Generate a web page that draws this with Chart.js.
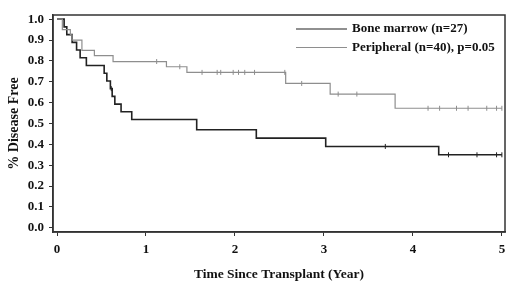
<!DOCTYPE html>
<html>
<head>
<meta charset="utf-8">
<script src="https://cdn.jsdelivr.net/npm/chart.js@4"></script>
<style>
  html, body { margin: 0; padding: 0; background: #fff; }
  #wrap { width: 520px; height: 284px; }
</style>
</head>
<body>
<div id="wrap"><canvas id="myChart" width="520" height="284"></canvas></div>
<script>
// Kaplan-Meier steps: time (years) at which the curve drops, and the new value
const bmTimes = [0.08, 0.11, 0.17, 0.22, 0.26, 0.33, 0.53, 0.56, 0.60, 0.62, 0.65, 0.72, 0.84, 1.57, 2.24, 3.02, 4.29];
const bmSurv = [0.963, 0.926, 0.889, 0.852, 0.815, 0.778, 0.741, 0.704, 0.667, 0.63, 0.593, 0.556, 0.519, 0.47, 0.43, 0.39, 0.35];
const bmCensor = [0.61, 3.69, 4.4, 4.72, 4.94, 5.0];

const pbTimes = [0.06, 0.15, 0.17, 0.28, 0.42, 0.63, 1.23, 1.46, 2.57, 3.07, 3.8];
const pbSurv = [0.95, 0.925, 0.9, 0.85, 0.825, 0.797, 0.772, 0.745, 0.692, 0.641, 0.573];
const pbCensor = [1.12, 1.38, 1.63, 1.8, 1.84, 1.98, 2.04, 2.11, 2.22, 2.56, 2.75, 3.16, 3.37, 4.17, 4.3, 4.49, 4.62, 4.83, 4.94, 5.0];

const xTicks = [0, 1, 2, 3, 4, 5];
const yTicks = [0, 0.1, 0.2, 0.3, 0.4, 0.5, 0.6, 0.7, 0.8, 0.9, 1.0];

const legendLabels = ["Bone marrow (n=27)", "Peripheral (n=40), p=0.05"];
const xTitle = "Time Since Transplant (Year)";
const yTitle = "% Disease Free";

const darkColor = "#222";
const lightColor = "#8e8e8e";
const font = "'Liberation Serif', 'DejaVu Serif', serif";

function stepPoints(times, surv, end) {
  const pts = [{ x: 0, y: 1 }];
  times.forEach((t, i) => pts.push({ x: t, y: surv[i] }));
  pts.push({ x: end, y: surv[surv.length - 1] });
  return pts;
}

function survAt(times, surv, t) {
  let s = 1;
  times.forEach((ti, i) => { if (ti <= t) s = surv[i]; });
  return s;
}

function censorPoints(times, surv, cens) {
  return cens.map((t) => ({ x: t, y: survAt(times, surv, t) }));
}

// "before": horizontal run at the old value, then drop at the new time
const lineSet = (label, data, color, width) => ({
  label, data,
  borderColor: color, borderWidth: width,
  stepped: "before", pointRadius: 0, fill: false,
});
const censorSet = (label, data, color) => ({
  label, data, showLine: false,
  pointStyle: "line", rotation: 90, pointRadius: 2.5,
  borderColor: color, borderWidth: 1, backgroundColor: color,
});

// frame around the plot area + legend drawn inside it
const framePlugin = {
  id: "frame",
  afterDraw(chart) {
    const { ctx, chartArea: a } = chart;
    ctx.save();
    ctx.strokeStyle = "#333";
    ctx.lineWidth = 1.5;
    ctx.strokeRect(a.left, a.top, a.right - a.left, a.bottom - a.top);

    const colors = [darkColor, lightColor];
    const x0 = a.right - 209, x1 = a.right - 158;
    ctx.font = "bold 13px " + font;
    ctx.textBaseline = "middle";
    ctx.fillStyle = "#111";
    legendLabels.forEach((txt, i) => {
      const y = a.top + 14 + i * 18.5;
      ctx.strokeStyle = colors[i];
      ctx.lineWidth = 1.2;
      ctx.beginPath();
      ctx.moveTo(x0, y);
      ctx.lineTo(x1, y);
      ctx.stroke();
      ctx.fillText(txt, x1 + 5, y);
    });
    ctx.restore();
  },
};

new Chart(document.getElementById("myChart").getContext("2d"), {
  type: "line",
  data: {
    datasets: [
      lineSet("Peripheral", stepPoints(pbTimes, pbSurv, 5.0), lightColor, 1.2),
      lineSet("Bone marrow", stepPoints(bmTimes, bmSurv, 5.0), darkColor, 1.6),
      censorSet("pb censored", censorPoints(pbTimes, pbSurv, pbCensor), lightColor),
      censorSet("bm censored", censorPoints(bmTimes, bmSurv, bmCensor), darkColor),
    ],
  },
  options: {
    responsive: false,
    animation: false,
    devicePixelRatio: 1,
    layout: { padding: { top: 15, right: 15, left: 4, bottom: 1 } },
    scales: {
      x: {
        type: "linear",
        min: -0.045,
        max: 5.035,
        afterBuildTicks: (s) => { s.ticks = xTicks.map((v) => ({ value: v })); },
        afterFit: (s) => { s.height = 51; },
        grid: { drawOnChartArea: false, drawTicks: true, tickLength: 4, color: "#333" },
        border: { display: true, color: "#333", width: 1.5 },
        ticks: { color: "#111", font: { family: font, size: 13, weight: "bold" }, padding: 6, maxRotation: 0 },
        title: { display: true, text: xTitle, color: "#111", font: { family: font, size: 13.5, weight: "bold" }, padding: { top: 9, bottom: 0 } },
      },
      y: {
        type: "linear",
        min: -0.02,
        max: 1.02,
        afterBuildTicks: (s) => { s.ticks = yTicks.map((v) => ({ value: v })); },
        afterFit: (s) => { s.width = 49; },
        grid: { drawOnChartArea: false, drawTicks: true, tickLength: 4, color: "#333" },
        border: { display: true, color: "#333", width: 1.5 },
        ticks: { color: "#111", font: { family: font, size: 13, weight: "bold" }, padding: 5, callback: (v) => v.toFixed(1) },
        title: { display: true, text: yTitle, color: "#111", font: { family: font, size: 14, weight: "bold" }, padding: { top: 2, bottom: 0 } },
      },
    },
    plugins: {
      legend: { display: false },
      tooltip: { enabled: false },
    },
  },
  plugins: [framePlugin],
});
</script>
</body>
</html>
